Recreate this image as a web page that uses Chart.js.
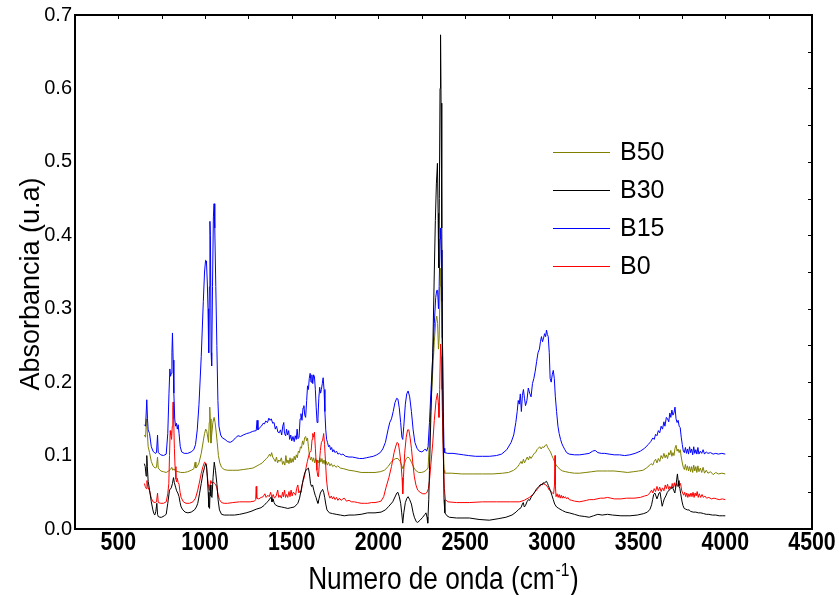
<!DOCTYPE html>
<html>
<head>
<meta charset="utf-8">
<title>FTIR B0 B15 B30 B50</title>
<script src="https://cdn.jsdelivr.net/npm/chart.js@4.4.1/dist/chart.umd.min.js"></script>
<style>
  html, body { margin: 0; padding: 0; background: #fff; }
  canvas { display: block; }
</style>
</head>
<body>
<canvas id="ftir" width="839" height="595"></canvas>
<script>
// spectra as [wavenumber (cm-1), absorbance] pairs

const b15 = [
  [650,0.142],[657,0.140],[664,0.176],[668,0.150],[672,0.135],[680,0.130],[690,0.112],[700,0.106],[712,0.103],[720,0.104],
  [726,0.128],[730,0.104],[745,0.101],[760,0.100],[776,0.102],[785,0.130],[792,0.185],[797,0.218],[801,0.208],[805,0.212],
  [809,0.240],[812,0.267],[816,0.230],[820,0.185],[825,0.150],[830,0.140],[835,0.144],[840,0.136],[845,0.142],[850,0.130],
  [857,0.112],[865,0.105],[880,0.103],[900,0.103],[920,0.105],[935,0.108],[945,0.115],[955,0.135],[965,0.170],[978,0.235],
  [990,0.310],[997,0.350],[1003,0.366],[1008,0.365],[1013,0.335],[1017,0.300],[1021,0.240],[1025,0.330],[1028,0.419],[1031,0.400],
  [1035,0.240],[1038,0.222],[1043,0.330],[1048,0.425],[1052,0.443],[1056,0.410],[1062,0.330],[1068,0.250],[1074,0.175],[1080,0.140],
  [1090,0.128],[1100,0.124],[1115,0.122],[1130,0.119],[1145,0.118],[1160,0.120],[1175,0.124],[1190,0.127],[1205,0.126],[1220,0.128],
  [1240,0.130],[1256,0.131],[1275,0.133],[1295,0.134],[1300,0.148],[1305,0.135],[1315,0.138],[1325,0.140],[1335,0.144],[1342,0.143],
  [1350,0.147],[1360,0.145],[1368,0.151],[1375,0.148],[1382,0.150],[1390,0.144],[1398,0.145],[1405,0.136],[1412,0.140],[1420,0.132],
  [1428,0.131],[1435,0.135],[1442,0.128],[1448,0.140],[1454,0.145],[1458,0.130],[1465,0.127],[1470,0.136],[1476,0.128],[1482,0.134],
  [1488,0.122],[1494,0.128],[1500,0.120],[1507,0.126],[1514,0.119],[1520,0.127],[1526,0.122],[1531,0.136],[1536,0.123],[1542,0.125],
  [1548,0.150],[1553,0.157],[1559,0.148],[1565,0.165],[1570,0.168],[1575,0.155],[1580,0.152],[1586,0.175],[1591,0.195],[1596,0.190],
  [1601,0.205],[1606,0.212],[1611,0.200],[1616,0.210],[1621,0.198],[1626,0.210],[1631,0.207],[1636,0.190],[1641,0.165],[1646,0.145],
  [1651,0.150],[1656,0.178],[1661,0.193],[1666,0.185],[1671,0.190],[1676,0.198],[1681,0.206],[1686,0.190],[1691,0.160],[1696,0.135],
  [1701,0.122],[1706,0.118],[1712,0.112],[1718,0.114],[1724,0.108],[1730,0.111],[1736,0.105],[1742,0.108],[1750,0.104],[1758,0.106],
  [1766,0.102],[1775,0.103],[1785,0.101],[1795,0.102],[1810,0.099],[1830,0.098],[1850,0.098],[1870,0.097],[1890,0.096],[1910,0.096],
  [1930,0.097],[1950,0.098],[1970,0.099],[1990,0.101],[2010,0.104],[2025,0.109],[2040,0.118],[2055,0.135],[2065,0.145],[2075,0.150],
  [2085,0.160],[2095,0.172],[2105,0.178],[2112,0.177],[2120,0.165],[2128,0.145],[2135,0.125],[2140,0.122],[2146,0.140],[2155,0.170],
  [2163,0.184],[2171,0.188],[2180,0.180],[2190,0.160],[2200,0.135],[2210,0.118],[2222,0.110],[2235,0.106],[2250,0.105],[2262,0.107],
  [2270,0.109],[2278,0.106],[2286,0.112],[2294,0.145],[2303,0.190],[2313,0.235],[2322,0.280],[2330,0.315],[2336,0.325],[2341,0.325],
  [2346,0.300],[2350,0.330],[2355,0.395],[2358,0.410],[2362,0.380],[2366,0.310],[2370,0.240],[2374,0.160],[2378,0.110],[2382,0.104],
  [2400,0.103],[2430,0.103],[2460,0.102],[2490,0.101],[2520,0.100],[2560,0.099],[2600,0.099],[2640,0.099],[2680,0.100],[2710,0.102],
  [2740,0.108],[2765,0.118],[2780,0.128],[2792,0.145],[2800,0.160],[2806,0.175],[2812,0.170],[2818,0.184],[2824,0.160],[2830,0.182],
  [2836,0.190],[2842,0.178],[2848,0.168],[2856,0.175],[2864,0.192],[2872,0.185],[2880,0.180],[2888,0.198],[2896,0.205],[2904,0.215],
  [2912,0.228],[2920,0.240],[2928,0.245],[2934,0.255],[2940,0.262],[2946,0.255],[2952,0.260],[2958,0.266],[2964,0.262],[2969,0.271],
  [2974,0.265],[2979,0.262],[2985,0.240],[2990,0.205],[2996,0.200],[3002,0.210],[3008,0.216],[3014,0.205],[3020,0.180],[3027,0.160],
  [3035,0.140],[3042,0.130],[3050,0.122],[3058,0.116],[3066,0.112],[3075,0.108],[3085,0.104],[3100,0.102],[3130,0.101],[3160,0.101],
  [3190,0.102],[3215,0.103],[3235,0.106],[3250,0.107],[3265,0.104],[3285,0.103],[3305,0.103],[3330,0.102],[3360,0.101],[3390,0.101],
  [3420,0.100],[3450,0.101],[3480,0.103],[3510,0.106],[3535,0.110],[3555,0.115],[3570,0.119],[3582,0.124],[3590,0.122],[3598,0.129],
  [3606,0.127],[3614,0.134],[3622,0.131],[3630,0.140],[3638,0.136],[3646,0.146],[3652,0.140],[3660,0.152],[3667,0.150],[3674,0.146],
  [3680,0.158],[3686,0.152],[3692,0.162],[3698,0.155],[3704,0.158],[3710,0.166],[3716,0.150],[3722,0.145],[3728,0.148],[3734,0.140],
  [3740,0.138],[3746,0.125],[3752,0.115],[3758,0.106],[3764,0.104],[3770,0.111],[3776,0.103],[3782,0.109],[3788,0.102],[3794,0.112],
  [3800,0.104],[3806,0.109],[3812,0.101],[3818,0.112],[3824,0.103],[3830,0.108],[3836,0.102],[3842,0.111],[3848,0.102],[3856,0.106],
  [3864,0.103],[3872,0.108],[3880,0.102],[3890,0.105],[3900,0.103],[3915,0.104],[3930,0.102],[3945,0.103],[3960,0.102],[3980,0.103],
  [4000,0.102]
];

const b50 = [
  [650,0.128],[657,0.125],[662,0.150],[666,0.135],[672,0.112],[680,0.104],[690,0.092],[700,0.086],[712,0.083],[720,0.084],
  [726,0.098],[730,0.083],[745,0.079],[760,0.078],[776,0.077],[790,0.079],[800,0.081],[808,0.084],[814,0.080],[820,0.082],
  [830,0.079],[845,0.078],[860,0.077],[880,0.077],[900,0.078],[920,0.080],[935,0.082],[943,0.091],[947,0.083],[955,0.085],
  [965,0.090],[978,0.103],[990,0.120],[997,0.130],[1004,0.136],[1010,0.133],[1016,0.124],[1020,0.118],[1024,0.145],[1027,0.166],
  [1030,0.150],[1034,0.117],[1039,0.130],[1045,0.145],[1052,0.152],[1058,0.145],[1064,0.132],[1070,0.118],[1077,0.100],[1085,0.090],
  [1095,0.084],[1110,0.081],[1130,0.080],[1160,0.080],[1190,0.080],[1220,0.081],[1250,0.082],[1276,0.083],[1300,0.086],[1315,0.088],
  [1330,0.090],[1345,0.094],[1355,0.096],[1365,0.099],[1372,0.102],[1378,0.099],[1384,0.104],[1390,0.098],[1398,0.095],[1405,0.092],
  [1412,0.098],[1418,0.090],[1425,0.094],[1432,0.092],[1440,0.097],[1447,0.088],[1453,0.092],[1460,0.087],[1466,0.100],[1472,0.090],
  [1478,0.094],[1484,0.089],[1490,0.097],[1496,0.090],[1502,0.096],[1508,0.091],[1514,0.099],[1520,0.094],[1526,0.101],[1532,0.097],
  [1538,0.106],[1544,0.104],[1550,0.112],[1556,0.110],[1562,0.120],[1568,0.115],[1574,0.124],[1580,0.126],[1586,0.120],[1591,0.124],
  [1596,0.112],[1602,0.100],[1608,0.094],[1614,0.098],[1620,0.092],[1626,0.097],[1632,0.090],[1638,0.096],[1644,0.089],[1650,0.094],
  [1656,0.090],[1662,0.097],[1668,0.091],[1674,0.096],[1680,0.089],[1686,0.094],[1692,0.088],[1698,0.092],[1705,0.087],[1712,0.091],
  [1720,0.086],[1728,0.089],[1736,0.085],[1745,0.087],[1755,0.084],[1765,0.086],[1780,0.083],[1800,0.082],[1830,0.080],[1860,0.079],
  [1900,0.077],[1940,0.077],[1980,0.077],[2010,0.078],[2035,0.080],[2055,0.085],[2070,0.090],[2085,0.094],[2100,0.096],[2112,0.096],
  [2125,0.092],[2135,0.086],[2141,0.082],[2150,0.089],[2160,0.096],[2170,0.098],[2180,0.096],[2192,0.090],[2205,0.083],[2218,0.079],
  [2232,0.077],[2248,0.077],[2262,0.078],[2275,0.080],[2286,0.083],[2294,0.120],[2303,0.170],[2313,0.215],[2322,0.255],[2330,0.282],
  [2336,0.290],[2341,0.280],[2346,0.245],[2350,0.260],[2355,0.330],[2358,0.355],[2362,0.330],[2366,0.260],[2370,0.190],[2374,0.120],
  [2378,0.080],[2382,0.076],[2420,0.076],[2480,0.075],[2540,0.075],[2600,0.075],[2660,0.075],[2716,0.076],[2750,0.077],[2780,0.080],
  [2800,0.084],[2812,0.088],[2822,0.092],[2828,0.089],[2836,0.095],[2842,0.090],[2850,0.094],[2858,0.098],[2865,0.094],[2872,0.099],
  [2880,0.096],[2890,0.100],[2898,0.103],[2906,0.104],[2914,0.108],[2922,0.110],[2930,0.112],[2938,0.109],[2946,0.112],[2954,0.111],
  [2962,0.114],[2969,0.115],[2976,0.111],[2984,0.108],[2992,0.105],[3000,0.100],[3008,0.096],[3016,0.091],[3025,0.087],[3035,0.084],
  [3048,0.081],[3062,0.079],[3080,0.078],[3100,0.077],[3130,0.076],[3160,0.076],[3196,0.077],[3230,0.078],[3260,0.079],[3290,0.079],
  [3320,0.079],[3359,0.079],[3400,0.078],[3436,0.077],[3470,0.078],[3500,0.079],[3525,0.080],[3545,0.083],[3560,0.086],[3572,0.089],
  [3582,0.087],[3590,0.092],[3598,0.095],[3606,0.090],[3614,0.096],[3622,0.092],[3630,0.100],[3638,0.096],[3646,0.103],[3653,0.097],
  [3660,0.101],[3667,0.096],[3674,0.104],[3680,0.101],[3686,0.107],[3692,0.099],[3698,0.104],[3704,0.100],[3710,0.110],[3716,0.114],
  [3722,0.106],[3728,0.109],[3734,0.104],[3740,0.108],[3746,0.098],[3752,0.090],[3758,0.084],[3764,0.081],[3770,0.088],[3776,0.080],
  [3782,0.086],[3788,0.079],[3794,0.085],[3800,0.078],[3806,0.085],[3812,0.077],[3818,0.087],[3824,0.079],[3830,0.085],[3836,0.077],
  [3842,0.086],[3848,0.078],[3856,0.083],[3864,0.077],[3872,0.084],[3880,0.076],[3890,0.080],[3900,0.076],[3915,0.078],[3930,0.074],
  [3945,0.077],[3960,0.075],[3980,0.076],[4000,0.075]
];

const b0 = [
  [650,0.062],[655,0.058],[661,0.055],[665,0.066],[668,0.060],[672,0.056],[680,0.052],[690,0.042],[700,0.037],[712,0.036],
  [720,0.037],[726,0.049],[730,0.036],[745,0.035],[760,0.035],[776,0.037],[785,0.048],[791,0.062],[795,0.100],[799,0.134],
  [803,0.128],[807,0.122],[811,0.140],[814,0.165],[816,0.173],[819,0.150],[823,0.110],[827,0.085],[832,0.068],[836,0.064],
  [840,0.069],[845,0.063],[850,0.061],[856,0.050],[862,0.043],[875,0.037],[890,0.035],[910,0.035],[930,0.037],[945,0.042],
  [958,0.053],[968,0.064],[978,0.076],[988,0.085],[997,0.091],[1003,0.090],[1008,0.088],[1013,0.072],[1018,0.062],[1024,0.053],
  [1028,0.058],[1033,0.066],[1040,0.062],[1048,0.064],[1054,0.062],[1062,0.060],[1068,0.056],[1075,0.047],[1083,0.040],[1095,0.036],
  [1110,0.035],[1130,0.035],[1160,0.036],[1199,0.037],[1230,0.037],[1260,0.037],[1285,0.038],[1292,0.040],[1295,0.058],[1298,0.042],
  [1310,0.041],[1323,0.043],[1335,0.044],[1345,0.048],[1352,0.043],[1362,0.046],[1370,0.044],[1378,0.050],[1385,0.043],[1393,0.047],
  [1400,0.042],[1410,0.045],[1419,0.053],[1425,0.043],[1432,0.046],[1440,0.042],[1447,0.050],[1452,0.044],[1458,0.053],[1464,0.043],
  [1470,0.047],[1477,0.043],[1484,0.051],[1490,0.044],[1496,0.053],[1502,0.045],[1508,0.050],[1515,0.049],[1522,0.046],[1528,0.055],
  [1535,0.060],[1541,0.049],[1548,0.052],[1554,0.050],[1560,0.060],[1566,0.066],[1572,0.070],[1578,0.078],[1583,0.084],[1590,0.092],
  [1596,0.098],[1603,0.104],[1608,0.105],[1612,0.107],[1617,0.122],[1621,0.130],[1626,0.125],[1631,0.132],[1636,0.110],[1640,0.094],
  [1645,0.080],[1650,0.072],[1654,0.071],[1659,0.090],[1665,0.107],[1671,0.118],[1678,0.121],[1684,0.130],[1689,0.115],[1694,0.094],
  [1700,0.068],[1707,0.053],[1714,0.046],[1720,0.042],[1728,0.045],[1735,0.041],[1742,0.044],[1750,0.040],[1758,0.043],[1766,0.039],
  [1775,0.042],[1785,0.039],[1795,0.041],[1803,0.042],[1815,0.038],[1830,0.039],[1845,0.037],[1861,0.037],[1880,0.036],[1900,0.035],
  [1920,0.035],[1938,0.035],[1960,0.036],[1980,0.036],[2000,0.037],[2015,0.038],[2030,0.044],[2044,0.057],[2060,0.070],[2075,0.085],
  [2090,0.104],[2100,0.113],[2108,0.118],[2115,0.116],[2122,0.105],[2130,0.089],[2136,0.070],[2140,0.048],[2144,0.070],[2151,0.103],
  [2160,0.125],[2168,0.135],[2175,0.135],[2182,0.125],[2190,0.110],[2198,0.090],[2207,0.071],[2216,0.060],[2226,0.053],[2240,0.050],
  [2255,0.048],[2270,0.048],[2280,0.050],[2288,0.055],[2294,0.066],[2303,0.090],[2313,0.117],[2322,0.148],[2332,0.175],[2340,0.185],
  [2345,0.172],[2349,0.152],[2353,0.190],[2358,0.252],[2362,0.235],[2366,0.190],[2370,0.140],[2375,0.090],[2380,0.055],[2386,0.040],
  [2400,0.037],[2450,0.036],[2524,0.036],[2600,0.037],[2680,0.037],[2760,0.037],[2812,0.037],[2840,0.039],[2870,0.043],[2890,0.047],
  [2905,0.051],[2918,0.055],[2927,0.057],[2937,0.060],[2946,0.062],[2956,0.061],[2966,0.060],[2976,0.057],[2985,0.053],[2995,0.051],
  [3004,0.049],[3010,0.048],[3015,0.060],[3018,0.100],[3020,0.060],[3024,0.044],[3030,0.048],[3036,0.043],[3042,0.047],[3048,0.042],
  [3054,0.046],[3060,0.042],[3066,0.045],[3071,0.042],[3078,0.044],[3085,0.041],[3092,0.043],[3100,0.040],[3115,0.039],[3130,0.038],
  [3158,0.037],[3180,0.038],[3200,0.039],[3215,0.040],[3240,0.040],[3260,0.041],[3280,0.042],[3300,0.042],[3321,0.043],[3340,0.042],
  [3360,0.041],[3398,0.041],[3430,0.042],[3474,0.042],[3510,0.043],[3535,0.045],[3551,0.046],[3565,0.049],[3575,0.053],[3582,0.049],
  [3590,0.055],[3598,0.051],[3606,0.058],[3614,0.052],[3622,0.057],[3630,0.051],[3638,0.056],[3646,0.052],[3654,0.060],[3660,0.055],
  [3667,0.061],[3674,0.054],[3680,0.058],[3688,0.055],[3694,0.062],[3700,0.056],[3706,0.063],[3712,0.057],[3718,0.062],[3724,0.058],
  [3730,0.065],[3736,0.060],[3742,0.062],[3748,0.053],[3754,0.049],[3760,0.046],[3766,0.050],[3772,0.044],[3778,0.049],[3784,0.043],
  [3790,0.048],[3796,0.044],[3802,0.049],[3808,0.044],[3814,0.050],[3820,0.043],[3826,0.049],[3832,0.045],[3838,0.051],[3844,0.043],
  [3850,0.048],[3858,0.043],[3866,0.047],[3874,0.043],[3882,0.045],[3892,0.042],[3905,0.043],[3920,0.041],[3935,0.042],[3950,0.041],
  [3965,0.040],[3983,0.041],[4000,0.040]
];

const b30 = [
  [650,0.089],[655,0.085],[660,0.072],[664,0.100],[667,0.085],[672,0.065],[680,0.053],[690,0.037],[699,0.026],[705,0.021],
  [710,0.019],[716,0.024],[722,0.035],[726,0.020],[730,0.017],[740,0.016],[750,0.016],[765,0.018],[776,0.020],[785,0.035],
  [795,0.053],[805,0.056],[812,0.062],[818,0.070],[823,0.063],[830,0.057],[836,0.052],[843,0.049],[850,0.044],[856,0.036],
  [862,0.030],[872,0.026],[885,0.023],[901,0.022],[920,0.023],[939,0.026],[950,0.030],[958,0.035],[968,0.048],[978,0.062],
  [988,0.076],[997,0.084],[1003,0.089],[1008,0.086],[1013,0.071],[1018,0.050],[1022,0.030],[1026,0.028],[1030,0.060],[1034,0.045],
  [1040,0.043],[1046,0.070],[1053,0.091],[1060,0.080],[1068,0.062],[1075,0.040],[1083,0.026],[1095,0.020],[1110,0.019],[1140,0.019],
  [1170,0.019],[1200,0.020],[1237,0.022],[1265,0.024],[1295,0.027],[1323,0.029],[1340,0.032],[1355,0.036],[1365,0.038],[1375,0.042],
  [1381,0.043],[1386,0.037],[1392,0.041],[1398,0.036],[1405,0.033],[1420,0.031],[1440,0.030],[1460,0.029],[1477,0.028],[1495,0.029],
  [1515,0.030],[1535,0.035],[1545,0.042],[1554,0.053],[1562,0.063],[1569,0.071],[1576,0.077],[1583,0.080],[1590,0.082],[1596,0.083],
  [1602,0.075],[1608,0.062],[1614,0.058],[1620,0.060],[1628,0.052],[1635,0.046],[1640,0.043],[1646,0.038],[1651,0.035],[1658,0.042],
  [1665,0.049],[1672,0.052],[1678,0.054],[1684,0.050],[1690,0.043],[1696,0.034],[1703,0.026],[1717,0.022],[1735,0.021],[1756,0.020],
  [1780,0.019],[1803,0.018],[1830,0.019],[1861,0.019],[1900,0.020],[1938,0.022],[1980,0.022],[2015,0.023],[2040,0.026],[2060,0.031],
  [2082,0.037],[2098,0.045],[2106,0.049],[2112,0.050],[2120,0.044],[2128,0.035],[2134,0.022],[2140,0.008],[2146,0.022],[2155,0.036],
  [2164,0.042],[2171,0.044],[2180,0.040],[2190,0.034],[2200,0.022],[2207,0.016],[2218,0.010],[2226,0.009],[2240,0.012],[2255,0.016],
  [2268,0.020],[2274,0.022],[2280,0.016],[2284,0.008],[2290,0.040],[2294,0.080],[2303,0.160],[2313,0.240],[2322,0.350],[2328,0.420],
  [2334,0.470],[2340,0.498],[2344,0.430],[2347,0.356],[2351,0.450],[2355,0.600],[2358,0.673],[2361,0.580],[2365,0.410],[2369,0.260],
  [2373,0.130],[2378,0.040],[2383,0.022],[2395,0.018],[2409,0.016],[2450,0.015],[2524,0.015],[2580,0.013],[2639,0.012],[2690,0.014],
  [2735,0.016],[2770,0.019],[2793,0.023],[2810,0.027],[2822,0.029],[2830,0.034],[2835,0.036],[2841,0.030],[2848,0.032],[2856,0.037],
  [2865,0.040],[2872,0.039],[2882,0.044],[2892,0.047],[2902,0.051],[2910,0.054],[2917,0.056],[2925,0.058],[2932,0.060],[2937,0.061],
  [2944,0.060],[2950,0.063],[2956,0.062],[2962,0.064],[2969,0.065],[2975,0.062],[2980,0.059],[2985,0.056],[2992,0.052],[3000,0.046],
  [3008,0.040],[3016,0.034],[3027,0.030],[3040,0.028],[3062,0.025],[3080,0.023],[3100,0.022],[3130,0.020],[3158,0.018],[3190,0.017],
  [3215,0.016],[3240,0.018],[3265,0.020],[3290,0.019],[3321,0.020],[3350,0.019],[3398,0.018],[3450,0.018],[3493,0.019],[3530,0.021],
  [3551,0.023],[3566,0.027],[3575,0.033],[3581,0.040],[3587,0.047],[3594,0.049],[3600,0.045],[3606,0.041],[3612,0.045],[3618,0.049],
  [3624,0.050],[3630,0.040],[3636,0.031],[3642,0.036],[3648,0.041],[3657,0.045],[3666,0.050],[3676,0.053],[3686,0.055],[3695,0.057],
  [3702,0.053],[3709,0.049],[3715,0.058],[3720,0.068],[3724,0.075],[3728,0.066],[3733,0.058],[3738,0.055],[3743,0.048],[3750,0.038],
  [3756,0.032],[3763,0.028],[3772,0.027],[3782,0.026],[3791,0.026],[3800,0.024],[3815,0.023],[3830,0.023],[3845,0.022],[3859,0.022],
  [3875,0.021],[3890,0.020],[3905,0.020],[3925,0.019],[3945,0.019],[3965,0.018],[3983,0.018],[4000,0.018]
];

const seriesLabels = ['B30', 'B15', 'B0', 'B50'];
const seriesColors = ['#000000', '#0000ff', '#ff0000', '#808000'];
const legendOrder = ['B50', 'B30', 'B15', 'B0'];
const xTickValues = [500, 1000, 1500, 2000, 2500, 3000, 3500, 4000, 4500];

const sans = "'Liberation Sans', Arial, sans-serif";
const condense = 0.82; // horizontal squeeze for the narrow x-axis lettering

Chart.defaults.color = '#000';

// frame, inward ticks on top/right, x labels/titles and the legend
const frameAndLegend = {
  id: 'frameAndLegend',
  afterDraw(chart, args, opts) {
    const { ctx, chartArea: a, scales: { x, y } } = chart;
    ctx.save();
    ctx.strokeStyle = '#000';
    ctx.lineWidth = 2;
    ctx.beginPath();
    ctx.moveTo(a.left, a.top);
    ctx.lineTo(a.right, a.top);
    ctx.lineTo(a.right, a.bottom);
    ctx.stroke();

    ctx.lineWidth = 1;
    ctx.beginPath();
    for (let v = 500; v < 4500; v += 250) {
      const px = Math.round(x.getPixelForValue(v)) + 0.5;
      ctx.moveTo(px, a.top);
      ctx.lineTo(px, a.top + 4);
    }
    for (let i = 1; i < 14; i++) {
      const py = Math.round(y.getPixelForValue(i * 0.05)) + 0.5;
      ctx.moveTo(a.right, py);
      ctx.lineTo(a.right - 4, py);
    }
    ctx.stroke();

    ctx.fillStyle = '#000';
    ctx.textBaseline = 'alphabetic';

    // x tick labels, bold and squeezed
    ctx.font = 'bold 26px ' + sans;
    ctx.textAlign = 'center';
    xTickValues.forEach(v => {
      ctx.save();
      ctx.translate(x.getPixelForValue(v), a.bottom + 21);
      ctx.scale(condense, 1);
      ctx.fillText(String(v), 0, 0);
      ctx.restore();
    });

    // x title with superscript
    ctx.save();
    ctx.translate((a.left + a.right) / 2, 589);
    ctx.scale(condense, 1);
    ctx.textAlign = 'left';
    const main = 'Numero de onda (cm', sup = '-1', close = ')';
    ctx.font = '32px ' + sans;
    const wMain = ctx.measureText(main).width, wClose = ctx.measureText(close).width;
    ctx.font = '19px ' + sans;
    const wSup = ctx.measureText(sup).width;
    let tx = -(wMain + wSup + 2 + wClose) / 2;
    ctx.font = '32px ' + sans;
    ctx.fillText(main, tx, 0);
    tx += wMain + 1;
    ctx.font = '19px ' + sans;
    ctx.fillText(sup, tx, -13);
    tx += wSup + 1;
    ctx.font = '32px ' + sans;
    ctx.fillText(close, tx, 0);
    ctx.restore();

    // y title
    ctx.save();
    ctx.translate(32, 284);
    ctx.rotate(-Math.PI / 2);
    ctx.font = '27px ' + sans;
    ctx.textAlign = 'center';
    ctx.textBaseline = 'middle';
    ctx.fillText('Absorbancia (u.a)', 0, 0);
    ctx.restore();

    // legend
    ctx.font = opts.font;
    ctx.textBaseline = 'middle';
    ctx.textAlign = 'left';
    opts.order.forEach((label, i) => {
      const ds = chart.data.datasets.find(d => d.label === label);
      const ly = opts.top + i * opts.rowGap;
      ctx.strokeStyle = ds.borderColor;
      ctx.lineWidth = 1;
      ctx.beginPath();
      ctx.moveTo(opts.left, ly + 0.5);
      ctx.lineTo(opts.left + opts.lineLen, ly + 0.5);
      ctx.stroke();
      ctx.fillStyle = '#000';
      ctx.fillText(label, opts.left + opts.lineLen + 10, ly + 1);
    });
    ctx.restore();
  }
};

const spectra = [b30, b15, b0, b50];

new Chart(document.getElementById('ftir').getContext('2d'), {
  type: 'line',
  data: {
    datasets: spectra.map((s, i) => ({
      label: seriesLabels[i],
      data: s.map(p => ({ x: p[0], y: p[1] })),
      borderColor: seriesColors[i],
      borderWidth: 1,
      pointRadius: 0,
      tension: 0,
      fill: false
    }))
  },
  options: {
    responsive: false,
    animation: false,
    devicePixelRatio: 1,
    layout: { padding: { top: 13, right: 27, left: 0, bottom: 0 } },
    plugins: {
      legend: { display: false },
      tooltip: { enabled: false },
      frameAndLegend: {
        order: legendOrder,
        left: 553,
        top: 152,
        rowGap: 38,
        lineLen: 57,
        font: '25px ' + sans
      }
    },
    scales: {
      x: {
        type: 'linear',
        min: 250,
        max: 4500,
        afterBuildTicks: axis => { axis.ticks = xTickValues.map(v => ({ value: v })); },
        afterFit: axis => { axis.height = 66; },
        grid: { display: false, drawTicks: false },
        border: { display: true, color: '#000', width: 2 },
        ticks: { display: false },
        title: { display: false }
      },
      y: {
        min: 0,
        max: 0.7,
        afterFit: axis => { axis.width = 75; },
        grid: { display: false, drawTicks: false },
        border: { display: true, color: '#000', width: 2 },
        ticks: {
          stepSize: 0.1,
          padding: 3,
          callback: v => v.toFixed(1),
          font: { family: sans, size: 20 }
        },
        title: { display: false }
      }
    }
  },
  plugins: [frameAndLegend]
});
</script>
</body>
</html>
